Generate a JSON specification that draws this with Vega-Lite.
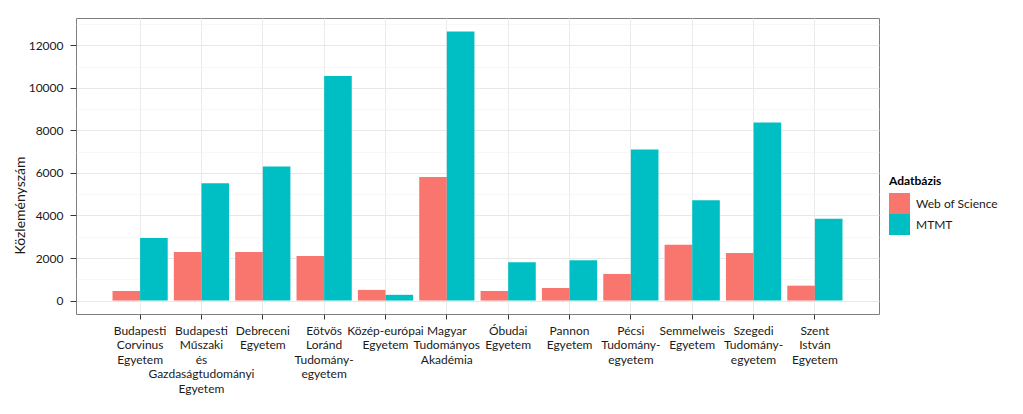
{
  "$schema": "https://vega.github.io/schema/vega-lite/v6.json",
  "width": 803,
  "height": 296,
  "autosize": {"type": "none"},
  "padding": {"left": 76, "top": 18, "right": 144, "bottom": 100},
  "background": "white",
  "config": {
    "font": "Lato",
    "view": {"stroke": "#7f7f7f", "strokeWidth": 1},
    "axis": {"labelFont": "Lato", "titleFont": "Lato", "labelColor": "#1a1a1a", "titleColor": "#1a1a1a", "domain": false, "tickColor": "#333333"}
  },
  "data": {
    "values": [
      {"egyetem": "Budapesti Corvinus Egyetem", "adatbazis": "Web of Science", "kozlemeny": 450},
      {"egyetem": "Budapesti Corvinus Egyetem", "adatbazis": "MTMT", "kozlemeny": 2940},
      {"egyetem": "Budapesti Műszaki és Gazdaságtudományi Egyetem", "adatbazis": "Web of Science", "kozlemeny": 2280},
      {"egyetem": "Budapesti Műszaki és Gazdaságtudományi Egyetem", "adatbazis": "MTMT", "kozlemeny": 5510},
      {"egyetem": "Debreceni Egyetem", "adatbazis": "Web of Science", "kozlemeny": 2280},
      {"egyetem": "Debreceni Egyetem", "adatbazis": "MTMT", "kozlemeny": 6300},
      {"egyetem": "Eötvös Loránd Tudományegyetem", "adatbazis": "Web of Science", "kozlemeny": 2090},
      {"egyetem": "Eötvös Loránd Tudományegyetem", "adatbazis": "MTMT", "kozlemeny": 10560},
      {"egyetem": "Közép-európai Egyetem", "adatbazis": "Web of Science", "kozlemeny": 500},
      {"egyetem": "Közép-európai Egyetem", "adatbazis": "MTMT", "kozlemeny": 270},
      {"egyetem": "Magyar Tudományos Akadémia", "adatbazis": "Web of Science", "kozlemeny": 5810},
      {"egyetem": "Magyar Tudományos Akadémia", "adatbazis": "MTMT", "kozlemeny": 12650},
      {"egyetem": "Óbudai Egyetem", "adatbazis": "Web of Science", "kozlemeny": 450},
      {"egyetem": "Óbudai Egyetem", "adatbazis": "MTMT", "kozlemeny": 1800},
      {"egyetem": "Pannon Egyetem", "adatbazis": "Web of Science", "kozlemeny": 590},
      {"egyetem": "Pannon Egyetem", "adatbazis": "MTMT", "kozlemeny": 1900},
      {"egyetem": "Pécsi Tudományegyetem", "adatbazis": "Web of Science", "kozlemeny": 1250},
      {"egyetem": "Pécsi Tudományegyetem", "adatbazis": "MTMT", "kozlemeny": 7100},
      {"egyetem": "Semmelweis Egyetem", "adatbazis": "Web of Science", "kozlemeny": 2620},
      {"egyetem": "Semmelweis Egyetem", "adatbazis": "MTMT", "kozlemeny": 4720},
      {"egyetem": "Szegedi Tudományegyetem", "adatbazis": "Web of Science", "kozlemeny": 2230},
      {"egyetem": "Szegedi Tudományegyetem", "adatbazis": "MTMT", "kozlemeny": 8370},
      {"egyetem": "Szent István Egyetem", "adatbazis": "Web of Science", "kozlemeny": 700},
      {"egyetem": "Szent István Egyetem", "adatbazis": "MTMT", "kozlemeny": 3840}
    ]
  },
  "mark": {"type": "bar"},
  "encoding": {
    "x": {
      "field": "egyetem",
      "type": "nominal",
      "sort": null,
      "scale": {"paddingInner": 0.1, "paddingOuter": 0.595},
      "axis": {
        "title": null,
        "labelAngle": 0,
        "labelFontSize": 12,
        "labelLineHeight": 14.5,
        "labelAlign": "center",
        "labelBaseline": "top",
        "labelPadding": 6,
        "labelLimit": 0,
        "labelExpr": "split(replace(datum.value, 'Tudományegyetem', 'Tudomány- egyetem'), ' ')",
        "tickSize": 5,
        "bandPosition": 0.5,
        "grid": true,
        "gridColor": "#ebebeb",
        "gridWidth": 1
      }
    },
    "xOffset": {
      "field": "adatbazis",
      "type": "nominal",
      "sort": ["Web of Science", "MTMT"],
      "scale": {"paddingInner": 0, "paddingOuter": 0}
    },
    "y": {
      "field": "kozlemeny",
      "type": "quantitative",
      "scale": {"domain": [-632, 13282], "nice": false, "zero": false},
      "axis": {
        "title": "Közleményszám",
        "titleFontSize": 14,
        "titleFontWeight": "normal",
        "titleX": -56,
        "titleY": 187,
        "titleAngle": -90,
        "titleAlign": "center",
        "titleBaseline": "middle",
        "values": [0, 1000, 2000, 3000, 4000, 5000, 6000, 7000, 8000, 9000, 10000, 11000, 12000, 13000],
        "format": "d",
        "labelExpr": "datum.value % 2000 === 0 ? datum.label : ''",
        "labelFontSize": 12,
        "labelPadding": 7,
        "tickSize": 6,
        "tickOpacity": {"condition": {"test": "datum.value % 2000 !== 0", "value": 0}, "value": 1},
        "grid": true,
        "gridColor": {"condition": {"test": "datum.value % 2000 !== 0", "value": "#f3f3f3"}, "value": "#e8e8e8"},
        "gridWidth": {"condition": {"test": "datum.value % 2000 !== 0", "value": 0.6}, "value": 1}
      }
    },
    "color": {
      "field": "adatbazis",
      "type": "nominal",
      "sort": ["Web of Science", "MTMT"],
      "scale": {"domain": ["Web of Science", "MTMT"], "range": ["#F8766D", "#00BFC4"]},
      "legend": {
        "title": "Adatbázis",
        "orient": "none",
        "legendX": 813,
        "legendY": 158,
        "titleFontSize": 12,
        "titleFontWeight": "bold",
        "titleColor": "#000000",
        "titlePadding": 5,
        "labelFontSize": 12,
        "labelColor": "#1a1a1a",
        "labelOffset": 6,
        "symbolType": "square",
        "symbolSize": 441,
        "symbolStrokeWidth": 0,
        "symbolOpacity": 1,
        "rowPadding": 0
      }
    }
  }
}
